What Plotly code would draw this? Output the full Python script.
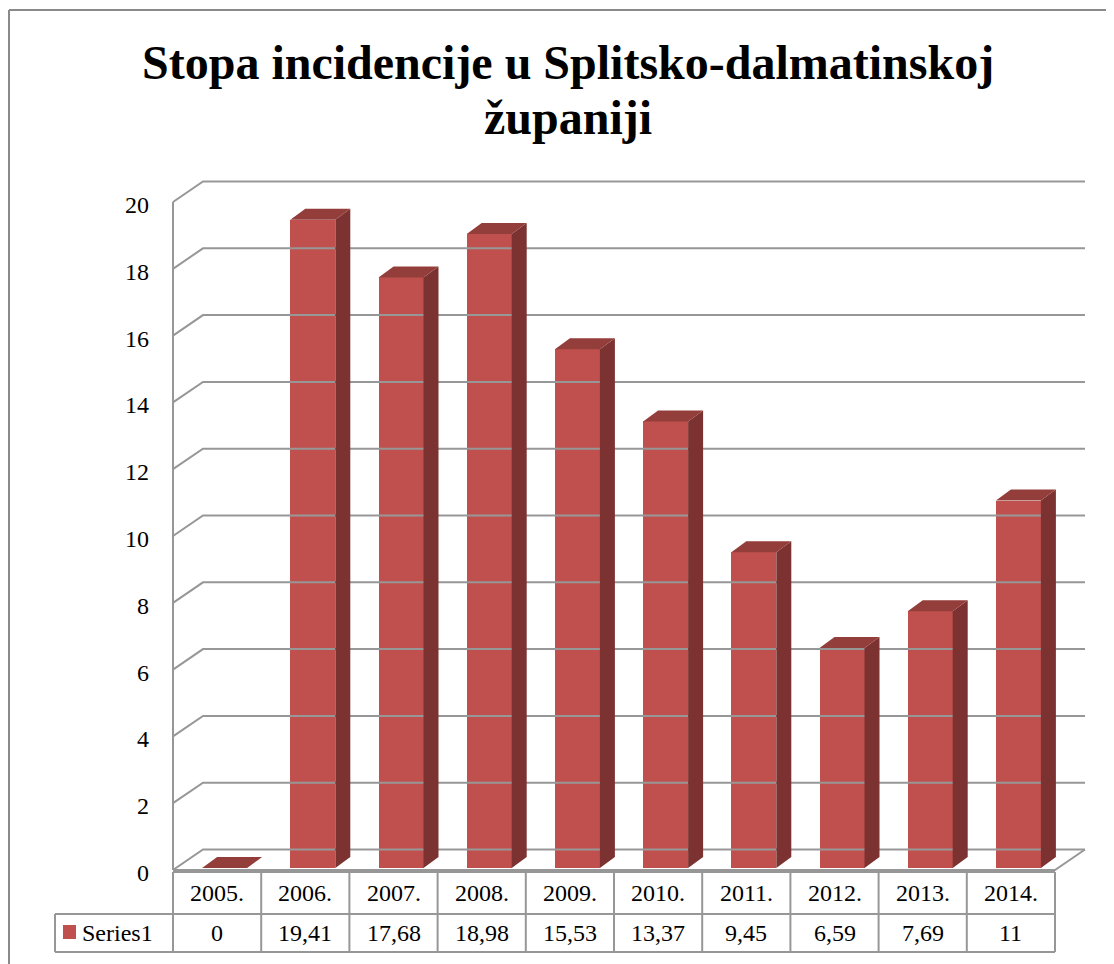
import plotly.graph_objects as go

# data
years = ["2005.", "2006.", "2007.", "2008.", "2009.", "2010.", "2011.", "2012.", "2013.", "2014."]
rates = [0, 19.41, 17.68, 18.98, 15.53, 13.37, 9.45, 6.59, 7.69, 11]
series_name = "Series1"
y_ticks = [0, 2, 4, 6, 8, 10, 12, 14, 16, 18, 20]
title_lines = ["Stopa incidencije u Splitsko-dalmatinskoj", "županiji"]

OFF = 8            # page margin of the browser
W, H = 1114 - OFF, 964 - OFF
CAT_PX = 88.2      # pixels per category
UNIT_PX = 33.4     # pixels per y unit
X0 = 173 - OFF     # px of x = -0.5 (front axis)
Y0 = 870 - OFF     # px of y = 0 (front floor edge)


def fx(px):
    return (px - OFF - X0) / CAT_PX - 0.5


def fy(py):
    return (Y0 - (py - OFF)) / UNIT_PX


# 3d depth of the walls and of the bars, in data units
WDX, WDY = 30 / CAT_PX, 20.5 / UNIT_PX
BDX, BDY = 15 / CAT_PX, 11 / UNIT_PX
BAR_W = 45 / CAT_PX
BAR_SHIFT = 7.5 / CAT_PX
BAR_BASE = 2 / UNIT_PX

front = "#C0504D"
top_c = "#943E3B"
side_c = "#7C3230"
grid_c = "#979797"
font = "Times New Roman, Liberation Serif, DejaVu Serif, serif"

fig = go.Figure()

# walls: back gridlines, left wall diagonals, front axis, floor
gx, gy = [], []
xmin, xmax = -0.5, len(years) - 0.5
for t in y_ticks:
    gx += [xmin, xmin + WDX, xmax + WDX, None]
    gy += [t, t + WDY, t + WDY, None]
gx += [xmin, xmin, None, xmin, xmax, xmax + WDX, None]
gy += [0, y_ticks[-1], None, 0, 0, WDY, None]
fig.add_trace(go.Scatter(x=gx, y=gy, mode="lines", line=dict(color=grid_c, width=2),
                         hoverinfo="skip", showlegend=False))

# bar tops and sides
tx, ty, sx, sy = [], [], [], []
for i, v in enumerate(rates):
    xl = i + BAR_SHIFT - BAR_W / 2
    xr = i + BAR_SHIFT + BAR_W / 2
    b = BAR_BASE
    tx += [xl, xr, xr + BDX, xl + BDX, xl, None]
    ty += [b + v, b + v, b + v + BDY, b + v + BDY, b + v, None]
    if v > 0:
        sx += [xr, xr, xr + BDX, xr + BDX, xr, None]
        sy += [b, b + v, b + v + BDY, b + BDY, b, None]
fig.add_trace(go.Scatter(x=sx, y=sy, mode="lines", fill="toself", fillcolor=side_c,
                         line=dict(width=0, color=side_c), hoverinfo="skip", showlegend=False))
fig.add_trace(go.Scatter(x=tx, y=ty, mode="lines", fill="toself", fillcolor=top_c,
                         line=dict(width=0, color=top_c), hoverinfo="skip", showlegend=False))

fig.add_trace(go.Bar(x=[i + BAR_SHIFT for i in range(len(years))], y=rates, base=BAR_BASE,
                     width=BAR_W, marker=dict(color=front, line=dict(width=0)),
                     name=series_name, showlegend=False))

# y tick labels
for t in y_ticks:
    fig.add_annotation(x=xmin, y=t, text=str(t), showarrow=False, xanchor="right",
                       xshift=-22, yshift=-3, font=dict(family=font, size=24, color="black"))

# data table
row_top, row_mid, row_bot = fy(872), fy(914), fy(952)
legend_left = fx(55)
shapes = []
tl = dict(color=grid_c, width=2)
shapes.append(dict(type="line", x0=xmin, x1=xmax, y0=row_top, y1=row_top, line=tl))
shapes.append(dict(type="line", x0=legend_left, x1=xmax, y0=row_mid, y1=row_mid, line=tl))
shapes.append(dict(type="line", x0=legend_left, x1=xmax, y0=row_bot, y1=row_bot, line=tl))
shapes.append(dict(type="line", x0=legend_left, x1=legend_left, y0=row_mid, y1=row_bot, line=tl))
for k in range(len(years) + 1):
    shapes.append(dict(type="line", x0=k - 0.5, x1=k - 0.5, y0=row_top, y1=row_bot, line=tl))
shapes.append(dict(type="rect", x0=fx(63), x1=fx(76), y0=fy(939), y1=fy(925),
                   fillcolor=front, line=dict(width=0)))
# outer chart border
border = dict(color="#8a8a8a", width=2)
shapes.append(dict(type="line", x0=fx(9), x1=fx(9), y0=fy(964), y1=fy(10), line=border))
shapes.append(dict(type="line", x0=fx(9), x1=fx(1114), y0=fy(10), y1=fy(10), line=border))

for i, (yr, v) in enumerate(zip(years, rates)):
    fig.add_annotation(x=i, y=(row_top + row_mid) / 2, text=yr, showarrow=False,
                       font=dict(family=font, size=24, color="black"))
    fig.add_annotation(x=i, y=(row_mid + row_bot) / 2, text=f"{v:g}".replace(".", ","),
                       showarrow=False, font=dict(family=font, size=24, color="black"))
fig.add_annotation(x=fx(80), y=(row_mid + row_bot) / 2, text=series_name, showarrow=False,
                   xanchor="left", font=dict(family=font, size=24, color="black"))

# title, two lines
for line, ypx in zip(title_lines, [62, 117]):
    fig.add_annotation(x=fx(568), y=fy(ypx), yanchor="middle", text=line, showarrow=False,
                       font=dict(family=font, size=48, color="black", weight="bold"))

fig.update_layout(
    width=W, height=H,
    margin=dict(l=0, r=0, t=0, b=0),
    paper_bgcolor="white", plot_bgcolor="white",
    shapes=shapes,
    bargap=0,
    xaxis=dict(range=[fx(OFF), fx(OFF + W)], visible=False, fixedrange=True),
    yaxis=dict(range=[fy(OFF + H), fy(OFF)], visible=False, fixedrange=True),
)

fig.write_html("out.html")
